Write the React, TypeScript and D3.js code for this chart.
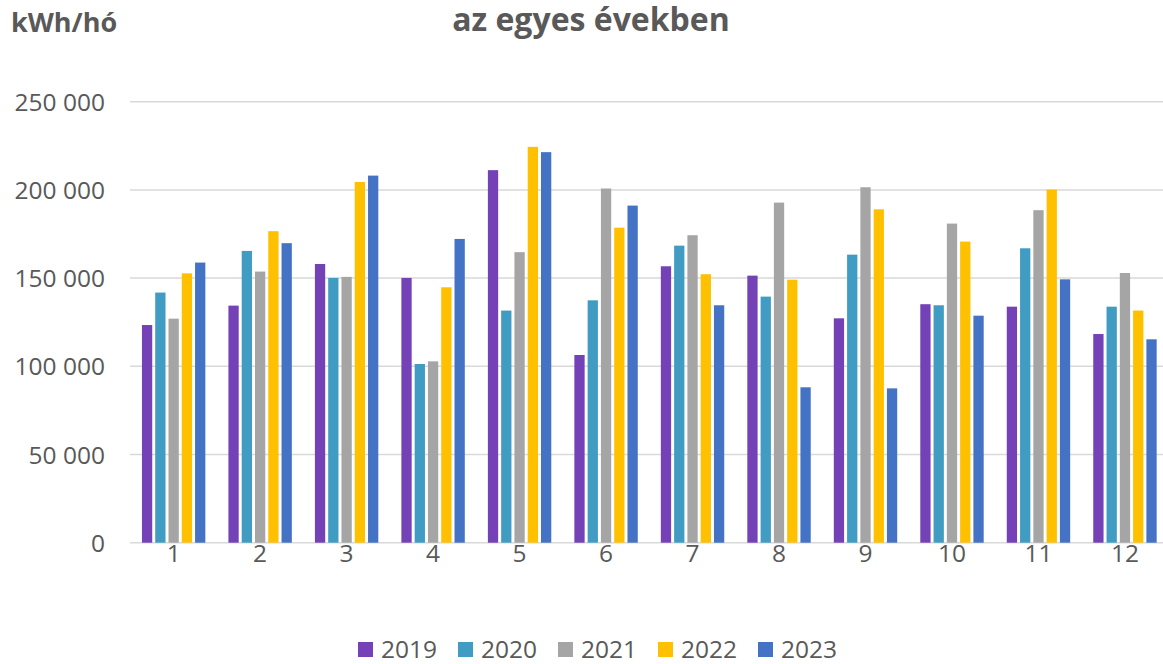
import React from "react";
import * as d3 from "d3";

const months = ["1", "2", "3", "4", "5", "6", "7", "8", "9", "10", "11", "12"];
const years = ["2019", "2020", "2021", "2022", "2023"];
const colors = ["#7442B6", "#409CC2", "#A5A5A5", "#FFC000", "#4472C4"];

const v2019 = [123400, 134400, 158000, 150100, 211200, 106400, 156700, 151400, 127200, 135200, 133800, 118300];
const v2020 = [141800, 165400, 150100, 101300, 131600, 137400, 168400, 139500, 163300, 134600, 166900, 133800];
const v2021 = [127000, 153700, 150700, 102800, 164700, 200800, 174300, 192800, 201500, 180900, 188500, 152900];
const v2022 = [152700, 176600, 204500, 144800, 224400, 178600, 152200, 149100, 189000, 170700, 200200, 131600];
const v2023 = [158800, 169800, 208100, 172200, 221400, 191100, 134600, 88100, 87500, 128700, 149300, 115300];
const series = [v2019, v2020, v2021, v2022, v2023];

const yTicks = [0, 50000, 100000, 150000, 200000, 250000];
const fmt = (v: number) => (v === 0 ? "0" : d3.format(",")(v).replace(/,/g, " "));

export default function App() {
  const W = 1163;
  const H = 664;
  const x0 = d3.scaleBand<string>().domain(months).range([130.4, 1168.2]).padding(0);
  const x1 = d3.scaleBand<string>().domain(years).range([0, 63.4]).paddingInner(0.226).paddingOuter(0);
  const y = d3.scaleLinear().domain([0, 250000]).range([542.7, 101.7]);
  const font = "'Open Sans', 'Noto Sans', sans-serif";
  const groupOffset = x0.bandwidth() / 2 - 63.4 / 2;

  return (
    <svg width={W} height={H} style={{ position: "absolute", left: 0, top: 0, background: "#fff" }}>
      <rect x={0} y={0} width={W} height={H} fill="#fff" />
      <text x={11} y={32} fontFamily={font} fontWeight={700} fontSize={27} fill="#595959">kWh/hó</text>
      <text x={591} y={31} textAnchor="middle" fontFamily={font} fontWeight={700} fontSize={32} fill="#595959">az egyes években</text>
      {yTicks.map((t) => (
        <g key={t}>
          <line x1={130} x2={W} y1={y(t)} y2={y(t)} stroke="#D9D9D9" strokeWidth={1.5} />
          <text x={105} y={y(t) + 9} textAnchor="end" fontFamily={font} fontSize={24.5} fill="#595959">{fmt(t)}</text>
        </g>
      ))}
      {months.map((m, i) => (
        <g key={m} transform={`translate(${(x0(m) as number) + groupOffset},0)`}>
          {years.map((yr, j) => {
            const v = series[j][i];
            return (
              <rect
                key={yr}
                x={x1(yr)}
                y={y(v)}
                width={x1.bandwidth()}
                height={y(0) - y(v)}
                fill={colors[j]}
              />
            );
          })}
          <text x={31.7} y={562} textAnchor="middle" fontFamily={font} fontSize={24.5} fill="#595959">{m}</text>
        </g>
      ))}
      {years.map((yr, j) => (
        <g key={yr} transform={`translate(${358 + j * 100},642)`}>
          <rect x={0} y={0} width={15} height={15} fill={colors[j]} />
          <text x={23} y={16} fontFamily={font} fontSize={24.5} fill="#595959">{yr}</text>
        </g>
      ))}
    </svg>
  );
}
